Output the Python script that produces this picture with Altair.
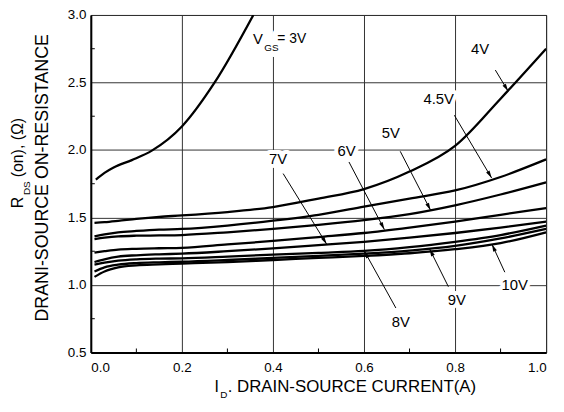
import math
import altair as alt
import pandas as pd

# ---------------- data ----------------
current = [0.008, 0.03, 0.06, 0.1, 0.15, 0.2, 0.3, 0.4, 0.5, 0.6, 0.7, 0.8, 0.9, 1.0]
r_4v = [1.46, 1.465, 1.475, 1.49, 1.505, 1.515, 1.54, 1.577, 1.64, 1.71, 1.84, 2.03, 2.38, 2.75]
r_45v = [1.36, 1.375, 1.39, 1.40, 1.41, 1.415, 1.44, 1.476, 1.52, 1.58, 1.64, 1.70, 1.80, 1.93]
r_5v = [1.34, 1.35, 1.36, 1.365, 1.367, 1.37, 1.39, 1.415, 1.445, 1.48, 1.525, 1.59, 1.67, 1.76]
r_6v = [1.24, 1.25, 1.262, 1.268, 1.272, 1.275, 1.30, 1.326, 1.355, 1.385, 1.425, 1.47, 1.52, 1.57]
r_7v = [1.17, 1.19, 1.21, 1.22, 1.227, 1.232, 1.25, 1.271, 1.295, 1.32, 1.35, 1.385, 1.425, 1.47]
r_8v = [1.15, 1.165, 1.18, 1.19, 1.195, 1.197, 1.21, 1.225, 1.238, 1.252, 1.28, 1.32, 1.37, 1.44]
r_9v = [1.10, 1.13, 1.15, 1.162, 1.168, 1.172, 1.185, 1.20, 1.215, 1.232, 1.255, 1.29, 1.345, 1.415]
r_10v = [1.06, 1.10, 1.13, 1.145, 1.152, 1.158, 1.17, 1.185, 1.20, 1.215, 1.235, 1.265, 1.31, 1.39]

current_3v = [0.011, 0.03, 0.05, 0.09, 0.134, 0.2, 0.272, 0.357]
r_3v = [1.78, 1.83, 1.87, 1.925, 1.995, 2.174, 2.5, 3.0]

x_ticks = [0.0, 0.2, 0.4, 0.6, 0.8, 1.0]
y_ticks = [0.5, 1.0, 1.5, 2.0, 2.5, 3.0]
x_minor = [0.1, 0.3, 0.5, 0.7, 0.9]
y_minor = [0.75, 1.25, 1.75, 2.25, 2.75]

# curve labels (data units)
label_text = ["4V", "4.5V", "5V", "6V", "7V", "8V", "9V", "10V"]
label_x = [0.855, 0.764, 0.659, 0.5615, 0.4115, 0.681, 0.804, 0.931]
label_r = [2.747, 2.377, 2.126, 1.995, 1.933, 0.729, 0.885, 0.999]

# leader arrows (start -> tip), data units
arrow_x1 = [0.8885, 0.7985, 0.6796, 0.567, 0.4224, 0.670, 0.7854, 0.9093]
arrow_r1 = [2.592, 2.257, 1.990, 1.911, 1.825, 0.8295, 0.987, 1.0946]
arrow_x2 = [0.9165, 0.8804, 0.7463, 0.6448, 0.518, 0.6007, 0.7441, 0.881]
arrow_r2 = [2.436, 1.792, 1.553, 1.410, 1.302, 1.252, 1.2665, 1.302]

# V_GS = 3V legend text pieces
vgs_text = ["V", "GS", "= 3V"]
vgs_x = [0.367, 0.3965, 0.4095]
vgs_r = [2.824, 2.753, 2.824]

# ---------------- layout ----------------
W, H = 460, 341
FONT = "Liberation Sans"
PX_X = W / 1.0
PX_R = H / 2.5

xs = alt.Scale(domain=[0, 1], nice=False, zero=False)
ys = alt.Scale(domain=[0.5, 3.0], nice=False, zero=False)
x_axis = alt.Axis(values=x_ticks, format=".1f", title=None, grid=True, labelPadding=8)
y_axis = alt.Axis(values=y_ticks, format=".1f", title=None, grid=True, labelPadding=5)


def X(f):
    return alt.X(f, type="quantitative", scale=xs, axis=x_axis)


def Y(f):
    return alt.Y(f, type="quantitative", scale=ys, axis=y_axis)


rows = []
for name, vals in [("4V", r_4v), ("4.5V", r_45v), ("5V", r_5v), ("6V", r_6v),
                   ("7V", r_7v), ("8V", r_8v), ("9V", r_9v), ("10V", r_10v)]:
    for xv, rv in zip(current, vals):
        rows.append({"vgs": name, "x": xv, "r": rv})
for xv, rv in zip(current_3v, r_3v):
    rows.append({"vgs": "3V", "x": xv, "r": rv})
curve_df = pd.DataFrame(rows)

lines = alt.Chart(curve_df).mark_line(
    color="black", strokeWidth=2.3, interpolate="monotone", clip=True
).encode(x=X("x"), y=Y("r"), detail="vgs:N")

xminor = alt.Chart(pd.DataFrame({"x": x_minor})).mark_rule(color="black", strokeWidth=1).encode(
    x=X("x"), y=alt.value(H), y2=alt.value(H - 4))
yminor = alt.Chart(pd.DataFrame({"r": y_minor})).mark_rule(color="black", strokeWidth=1).encode(
    y=Y("r"), x=alt.value(0), x2=alt.value(4))

angles = []
for a, b, c, d in zip(arrow_x1, arrow_r1, arrow_x2, arrow_r2):
    dx = (c - a) * PX_X
    dy = -(d - b) * PX_R
    angles.append(math.degrees(math.atan2(dx, -dy)) % 360)
arrow_df = pd.DataFrame({"x": arrow_x1, "r": arrow_r1, "x2": arrow_x2, "r2": arrow_r2, "ang": angles})

arrow_lines = alt.Chart(arrow_df).mark_rule(color="black", strokeWidth=1).encode(
    x=X("x"), y=Y("r"), x2="x2", y2="r2")
ARROW = "M0,0L-0.5,1.9L0.5,1.9Z"
arrow_heads = alt.Chart(arrow_df).mark_point(
    shape=ARROW, filled=True, size=64, color="black", opacity=1, strokeWidth=0
).encode(x=X("x2"), y=Y("r2"), angle=alt.Angle("ang:Q", scale=None))

label_df = pd.DataFrame({"t": label_text, "x": label_x, "r": label_r})
halo = alt.Chart(label_df).mark_text(
    font=FONT, fontSize=15, color="white", stroke="white", strokeWidth=8,
    strokeJoin="round", align="center", baseline="middle"
).encode(x=X("x"), y=Y("r"), text="t:N")
labels = alt.Chart(label_df).mark_text(
    font=FONT, fontSize=15, color="black", align="center", baseline="middle"
).encode(x=X("x"), y=Y("r"), text="t:N")

vgs_sizes = [15, 10, 14]
vgs_align = ["center", "center", "left"]
vgs_halo, vgs_parts = [], []
for t, xv, rv, fs, al in zip(vgs_text, vgs_x, vgs_r, vgs_sizes, vgs_align):
    d = pd.DataFrame({"t": [t], "x": [xv], "r": [rv]})
    vgs_halo.append(alt.Chart(d).mark_text(
        font=FONT, fontSize=fs, color="white", stroke="white", strokeWidth=12,
        strokeJoin="round", align=al, baseline="middle"
    ).encode(x=X("x"), y=Y("r"), text="t:N"))
    vgs_parts.append(alt.Chart(d).mark_text(
        font=FONT, fontSize=fs, color="black", align=al, baseline="middle"
    ).encode(x=X("x"), y=Y("r"), text="t:N"))


def txt(t, px, py, fs, angle=0, align="center"):
    d = pd.DataFrame({"t": [t]})
    kw = dict(font=FONT, fontSize=fs, color="black", align=align, baseline="middle")
    if angle:
        kw["angle"] = angle
    return alt.Chart(d).mark_text(**kw).encode(text="t:N", x=alt.value(px), y=alt.value(py))


titles = [
    txt("R", -73.7, 189.5, 16, 270),
    txt("DS", -64.7, 175, 10, 270),
    txt("(on),  (\u03a9)", -73.7, 134, 16, 270),
    txt("DRANI-SOURCE ON-RESISTANCE", -48.2, 164.5, 18, 270),
    txt("I", 127.3, 376, 16),
    txt("D", 134.3, 384, 10),
    txt(". DRAIN-SOURCE CURRENT(A)", 138.3, 376, 17, 0, "left"),
]

chart = alt.layer(
    lines, xminor, yminor, arrow_lines, arrow_heads, halo, *vgs_halo, labels, *vgs_parts, *titles
).properties(
    width=W, height=H,
    padding={"left": 83.7, "top": 5, "right": 10, "bottom": 48},
    autosize=alt.AutoSizeParams(type="none"),
).configure_view(
    stroke="black", strokeWidth=1
).configure_axis(
    labelFont=FONT, labelFontSize=13.5, labelColor="black",
    gridColor="#333333", gridWidth=1, gridOpacity=1,
    domainColor="black", domainWidth=2, ticks=False
)

chart.save("out.html", embed_options={"renderer": "svg", "actions": False})
